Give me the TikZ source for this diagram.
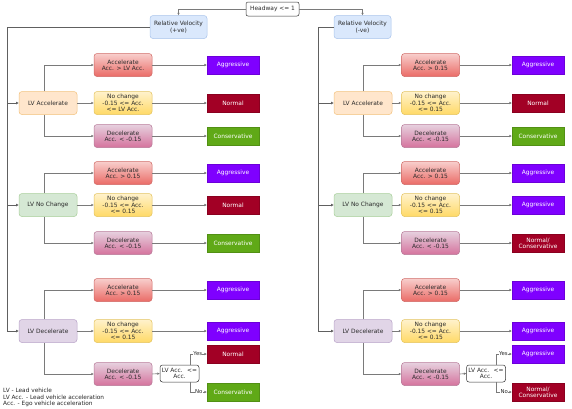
\documentclass[tikz,border=0pt]{standalone}
\usepackage{fontspec}
\setmainfont{DejaVu Sans}
\usetikzlibrary{arrows.meta}
\definecolor{txt}{HTML}{2A2A2A}
\definecolor{edgecol}{HTML}{7A7A7A}
\definecolor{trunkcol}{HTML}{606060}
\definecolor{rvfill}{HTML}{DAE8FC}
\definecolor{rvdraw}{HTML}{A9C4EB}
\definecolor{lvafill}{HTML}{FFE6CC}
\definecolor{lvadraw}{HTML}{F2C27D}
\definecolor{lvnfill}{HTML}{D5E8D4}
\definecolor{lvndraw}{HTML}{A9CF9A}
\definecolor{lvdfill}{HTML}{E1D5E7}
\definecolor{lvddraw}{HTML}{B9A4C9}
\definecolor{acctop}{HTML}{F8CECC}
\definecolor{accbot}{HTML}{EA6B66}
\definecolor{accdraw}{HTML}{D06A66}
\definecolor{nctop}{HTML}{FFF2CC}
\definecolor{ncbot}{HTML}{FFD966}
\definecolor{ncdraw}{HTML}{E3C35F}
\definecolor{dectop}{HTML}{E6D0DE}
\definecolor{decbot}{HTML}{D5739D}
\definecolor{decdraw}{HTML}{B77A98}
\definecolor{aggc}{HTML}{7F00FF}
\definecolor{normc}{HTML}{A20025}
\definecolor{consc}{HTML}{60A917}
\begin{document}
\begin{tikzpicture}[x=1pt,y=-1pt,
  every node/.style={font=\fontsize{5.9}{6.4}\selectfont, text=txt, align=center, inner sep=0pt},
  rv/.style={draw=rvdraw, fill=rvfill, rounded corners=3pt, minimum width=57pt, minimum height=23pt, line width=0.5pt},
  lvbox/.style={rounded corners=3pt, minimum width=58pt, minimum height=23pt, line width=0.5pt},
  lva/.style={lvbox, draw=lvadraw, fill=lvafill},
  lvn/.style={lvbox, draw=lvndraw, fill=lvnfill},
  lvd/.style={lvbox, draw=lvddraw, fill=lvdfill},
  accbox/.style={lvbox, draw=accdraw, top color=acctop, bottom color=accbot},
  ncbox/.style={lvbox, draw=ncdraw, top color=nctop, bottom color=ncbot},
  decbox/.style={lvbox, draw=decdraw, top color=dectop, bottom color=decbot},
  outbox/.style={minimum width=52pt, minimum height=18pt, text=white, line width=0.4pt},
  agg/.style={outbox, fill=aggc, draw=aggc!85!black},
  norm/.style={outbox, fill=normc, draw=normc!85!black},
  cons/.style={outbox, fill=consc, draw=consc!85!black},
  decision/.style={draw=black!80, fill=white, rounded corners=2.5pt, minimum width=39pt, minimum height=17pt, line width=0.5pt},
  edge/.style={draw=edgecol, line width=0.6pt, -{Triangle[length=2.4pt,width=2.2pt]}},
  trunk/.style={draw=trunkcol, line width=0.9pt},
  trunkarrow/.style={trunk, -{Triangle[length=2.6pt,width=2.4pt]}},
  lbl/.style={fill=white, inner sep=0.3pt, font=\fontsize{5.4}{6}\selectfont}
]
\useasboundingbox (0,0) rectangle (572,408);

% top
\node[draw=black!80, fill=white, rounded corners=2pt, minimum width=53pt, minimum height=14pt, line width=0.5pt] (hw) at (272.5,9) {Headway <= 1};
\node[rv] (rvL) at (178.5,27) {Relative Velocity\\(+ve)};
\node[rv] (rvR) at (362.5,27) {Relative Velocity\\(-ve)};
\draw[edge] (hw.west) -| (rvL.north);
\draw[edge] (hw.east) -| (rvR.north);

% ===== LEFT TREE =====
\node[lva] (LA) at (48,103) {LV Accelerate};
\node[lvn] (LN) at (48,205) {LV No Change};
\node[lvd] (LD) at (48,331) {LV Decelerate};
\coordinate (tL) at (7.5,27);
\draw[trunkarrow] (rvL.west) -- (tL) |- (LD.west);
\draw[trunkarrow] (tL |- LA.west) -- (LA.west);
\draw[trunkarrow] (tL |- LN.west) -- (LN.west);

\node[accbox] (LA1) at (123,65) {Accelerate\\Acc. > LV Acc.};
\node[ncbox] (LA2) at (123,103) {No change\\-0.15 <= Acc.\\<= LV Acc.};
\node[decbox] (LA3) at (123,136) {Decelerate\\Acc. < -0.15};
\node[accbox] (LN1) at (123,173) {Accelerate\\Acc. > 0.15};
\node[ncbox] (LN2) at (123,205) {No change\\-0.15 <= Acc.\\<= 0.15};
\node[decbox] (LN3) at (123,243) {Decelerate\\Acc. < -0.15};
\node[accbox] (LD1) at (123,290) {Accelerate\\Acc. > 0.15};
\node[ncbox] (LD2) at (123,331) {No change\\-0.15 <= Acc.\\<= 0.15};
\node[decbox] (LD3) at (123,374) {Decelerate\\Acc. < -0.15};

\foreach \p in {LA,LN,LD}{
  \draw[edge] ([xshift=-4pt]\p.north) |- (\p1.west);
  \draw[edge] (\p.east) -- (\p2.west);
  \draw[edge] ([xshift=-4pt]\p.south) |- (\p3.west);
}

\node[agg] (LAo1) at (233,65) {Aggressive};
\node[norm] (LAo2) at (233,103) {Normal};
\node[cons] (LAo3) at (233,136) {Conservative};
\node[agg] (LNo1) at (233,173) {Aggressive};
\node[norm] (LNo2) at (233,205) {Normal};
\node[cons] (LNo3) at (233,243) {Conservative};
\node[agg] (LDo1) at (233,290) {Aggressive};
\node[agg] (LDo2) at (233,331) {Aggressive};
\node[norm] (LDy) at (233,354) {Normal};
\node[cons] (LDn) at (233,392) {Conservative};
\draw[edge] (LA1.east) -- (LAo1.west);
\draw[edge] (LA2.east) -- (LAo2.west);
\draw[edge] (LA3.east) -- (LAo3.west);
\draw[edge] (LN1.east) -- (LNo1.west);
\draw[edge] (LN2.east) -- (LNo2.west);
\draw[edge] (LN3.east) -- (LNo3.west);
\draw[edge] (LD1.east) -- (LDo1.west);
\draw[edge] (LD2.east) -- (LDo2.west);
\node[decision] (LQ) at (179.5,373.5) {LV Acc. \ <=\\Acc.};
\draw[edge] (LD3.east) -- (LQ.west);
\draw[edge] ([xshift=-8.5pt]LQ.north east) |- node[lbl, pos=0.72] {Yes} (LDy.west);
\draw[edge] ([xshift=-8.5pt]LQ.south east) |- node[lbl, pos=0.75] {No} (LDn.west);

% ===== RIGHT TREE =====
\node[lva] (RA) at (363,103) {LV Accelerate};
\node[lvn] (RN) at (363,205) {LV No Change};
\node[lvd] (RD) at (363,331) {LV Decelerate};
\coordinate (tR) at (318,27);
\draw[trunkarrow] (rvR.west) -- (tR) |- (RD.west);
\draw[trunkarrow] (tR |- RA.west) -- (RA.west);
\draw[trunkarrow] (tR |- RN.west) -- (RN.west);

\node[accbox] (RA1) at (430.5,65) {Accelerate\\Acc. > 0.15};
\node[ncbox] (RA2) at (430.5,103) {No change\\-0.15 <= Acc.\\<= 0.15};
\node[decbox] (RA3) at (430.5,136) {Decelerate\\Acc. < -0.15};
\node[accbox] (RN1) at (430.5,173) {Accelerate\\Acc. > 0.15};
\node[ncbox] (RN2) at (430.5,205) {No change\\-0.15 <= Acc.\\<= 0.15};
\node[decbox] (RN3) at (430.5,243) {Decelerate\\Acc. < -0.15};
\node[accbox] (RD1) at (430.5,290) {Accelerate\\Acc. > 0.15};
\node[ncbox] (RD2) at (430.5,331) {No change\\-0.15 <= Acc.\\<= 0.15};
\node[decbox] (RD3) at (430.5,374) {Decelerate\\Acc. < -0.15};

\foreach \p in {RA,RN,RD}{
  \draw[edge] (\p.north) |- (\p1.west);
  \draw[edge] (\p.east) -- (\p2.west);
  \draw[edge] (\p.south) |- (\p3.west);
}

\node[agg] (RAo1) at (538,65) {Aggressive};
\node[norm] (RAo2) at (538,103) {Normal};
\node[cons] (RAo3) at (538,136) {Conservative};
\node[agg] (RNo1) at (538,173) {Aggressive};
\node[agg] (RNo2) at (538,205) {Aggressive};
\node[norm] (RNo3) at (538,243) {Normal/\\Conservative};
\node[agg] (RDo1) at (538,290) {Aggressive};
\node[agg] (RDo2) at (538,331) {Aggressive};
\node[agg] (RDy) at (538,354) {Aggressive};
\node[norm] (RDn) at (538,392) {Normal/\\Conservative};
\draw[edge] (RA1.east) -- (RAo1.west);
\draw[edge] (RA2.east) -- (RAo2.west);
\draw[edge] (RA3.east) -- (RAo3.west);
\draw[edge] (RN1.east) -- (RNo1.west);
\draw[edge] (RN2.east) -- (RNo2.west);
\draw[edge] (RN3.east) -- (RNo3.west);
\draw[edge] (RD1.east) -- (RDo1.west);
\draw[edge] (RD2.east) -- (RDo2.west);
\node[decision] (RQ) at (486,373.5) {LV Acc. \ <=\\Acc.};
\draw[edge] (RD3.east) -- (RQ.west);
\draw[edge] ([xshift=-9pt]RQ.north east) |- node[lbl, pos=0.72] {Yes} (RDy.west);
\draw[edge] ([xshift=-9pt]RQ.south east) |- node[lbl, pos=0.75] {No} (RDn.west);

% legend
\node[anchor=west, align=left, text=black!85, font=\fontsize{5.8}{6.5}\selectfont] (legend) at (3,397.5)
  {LV - Lead vehicle\\LV Acc. - Lead vehicle acceleration\\Acc. - Ego vehicle acceleration};
\end{tikzpicture}
\end{document}
